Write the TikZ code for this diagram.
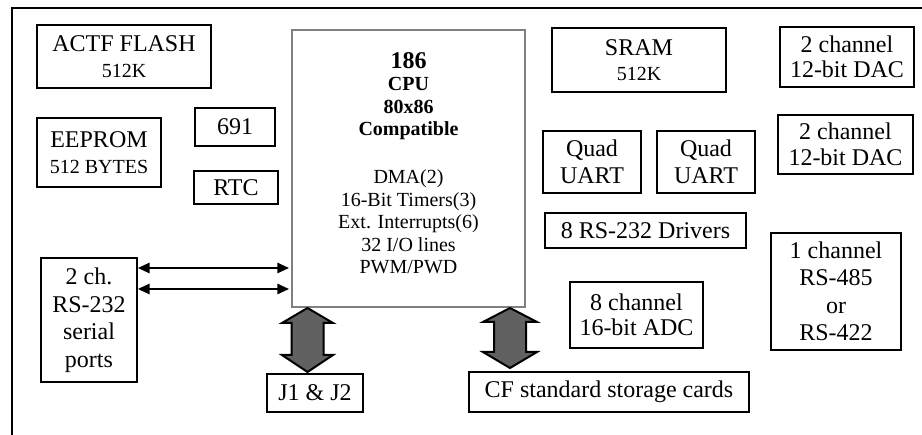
\documentclass[tikz,border=0pt]{standalone}
\usepackage{fontspec}
\setmainfont{Liberation Serif}
\usetikzlibrary{arrows.meta}
\tikzset{
  box/.style={draw, line width=1.3pt, inner sep=0pt, align=center,
    font=\fontsize{24}{27.5}\selectfont},
  cpubox/.style={draw=black!50, line width=1.5pt, inner sep=0pt},
  cputext/.style={inner sep=0pt, align=center, font=\fontsize{20}{22.5}\selectfont},
  thinarrow/.style={line width=2.8pt,
    {Triangle[length=12pt,width=10pt]}-{Triangle[length=12pt,width=10pt]}},
  bigarrow/.style={draw, fill=black!62, line width=2pt, line join=miter},
  frame/.style={line width=2pt}
}
\newcommand{\smalltxt}{\fontsize{20}{22}\selectfont}
\begin{document}
\begin{tikzpicture}[x=1pt,y=-1pt]
\useasboundingbox (0,0) rectangle (922,435);
\draw[frame] (12,440) -- (12,8) -- (930,8);

\node[box, minimum width=174pt, minimum height=63pt] (flash) at (124,56.5) {ACTF FLASH\\[-2pt]{\smalltxt 512K}};
\node[box, minimum width=124pt, minimum height=69pt] (eeprom) at (99,152.5) {EEPROM\\[-2pt]{\smalltxt 512 BYTES}};
\node[box, minimum width=80pt, minimum height=38pt] (n691) at (235,127) {691};
\node[box, minimum width=84pt, minimum height=33pt] (rtc) at (236,187.5) {RTC};

\node[cpubox, minimum width=233pt, minimum height=277pt] (cpu) at (408.5,168.5) {};
\node[cputext, anchor=north] (cputxt) at (408.5,52)
  {{\bfseries\fontsize{24}{24}\selectfont 186}\\
   \textbf{CPU}\\
   \textbf{80x86}\\
   \textbf{Compatible}\\[25.5pt]
   DMA(2)\\
   16-Bit Timers(3)\\
   Ext. Interrupts(6)\\
   32 I/O lines\\
   PWM/PWD};

\node[box, minimum width=174pt, minimum height=64pt] (sram) at (639,60) {SRAM\\[-2pt]{\smalltxt 512K}};
\node[box, minimum width=134pt, minimum height=60pt] (dac1) at (847,57) {2 channel\\[-2pt]12-bit DAC};
\node[box, minimum width=98pt, minimum height=62pt] (uart1) at (592,162) {Quad\\UART};
\node[box, minimum width=98pt, minimum height=62pt] (uart2) at (706,162) {Quad\\UART};
\node[box, minimum width=135pt, minimum height=59pt] (dac2) at (845.5,144.5) {2 channel\\[-2pt]12-bit DAC};
\node[box, minimum width=201pt, minimum height=35pt] (drivers) at (645.5,230.5) {8 RS-232 Drivers};
\node[box, minimum width=130pt, minimum height=117pt] (rs485) at (836,291.5) {1 channel\\RS-485\\or\\RS-422};
\node[box, minimum width=133pt, minimum height=66pt] (adc) at (636.5,315) {8 channel\\[-2pt]16-bit ADC};
\node[box, minimum width=280pt, minimum height=40pt] (cf) at (609,392) {CF standard storage cards};
\node[box, minimum width=96pt, minimum height=124pt] (rs232) at (89,320) {2 ch.\\RS-232\\serial\\ports};
\node[box, minimum width=96pt, minimum height=38pt] (j1) at (315,393) {J1 \& J2};

\coordinate (l1) at (0,268);
\coordinate (l2) at (0,289);
\draw[thinarrow] (rs232.east |- l1) -- ([xshift=-2pt]cpu.west |- l1);
\draw[thinarrow] (rs232.east |- l2) -- ([xshift=-2pt]cpu.west |- l2);

% big double arrow CPU <-> J1 & J2
\draw[bigarrow] (307.5,308) -- (333,323) -- (323.5,323) -- (323.5,355) -- (333,355)
  -- (307.5,372) -- (282,355) -- (291.5,355) -- (291.5,323) -- (282,323) -- cycle;
% big double arrow CPU <-> CF cards
\draw[bigarrow] (510,308) -- (537,322) -- (526,322) -- (526,352) -- (537,352)
  -- (510,368) -- (483,352) -- (494,352) -- (494,322) -- (483,322) -- cycle;
\end{tikzpicture}
\end{document}
